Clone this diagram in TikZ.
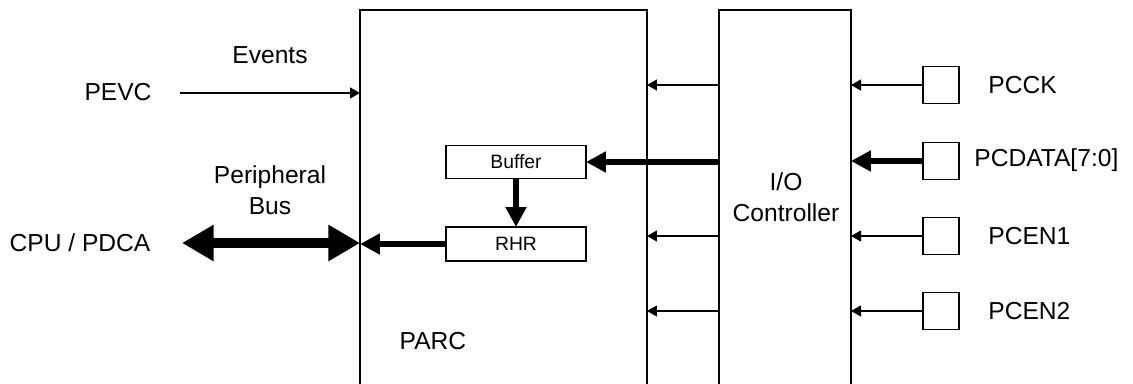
\documentclass[tikz,border=0pt]{standalone}
\usepackage{fontspec}
\setmainfont{Liberation Sans}
\usetikzlibrary{arrows.meta}

\begin{document}
\begin{tikzpicture}[x=0.02cm, y=-0.02cm,
    block/.style={rectangle, draw, line width=0.75pt, inner sep=0pt, outer sep=0pt},
    txt/.style={font=\fontsize{14}{17.5}\selectfont, align=center, inner sep=0pt},
    small/.style={font=\fontsize{11}{13}\selectfont},
    sig/.style={line width=0.85pt, -{Triangle[length=5.7pt, width=6.2pt]}},
    bus/.style={line width=3pt, -{Triangle[length=11.3pt, width=11.3pt]}},
    dbus/.style={line width=5.7pt, {Triangle[length=18pt, width=19.5pt]}-{Triangle[length=18pt, width=19.5pt]}}]
    \clip (0,0) rectangle (1133,383);

    % Draw nodes
    \node[block, minimum width=5.74cm, minimum height=7.8cm] (parc) at (503.5,205) {};
    \node[block, minimum width=2.64cm, minimum height=7.8cm] (io) at (785,205) {};
    \node[block, small, minimum width=2.8cm, minimum height=0.66cm] (buf) at (516,162) {Buffer};
    \node[block, small, minimum width=2.8cm, minimum height=0.68cm] (rhr) at (516,244) {RHR};
    \node[block, minimum width=0.72cm, minimum height=0.74cm] (pcck) at (941,85) {};
    \node[block, minimum width=0.72cm, minimum height=0.74cm] (pcdata) at (941,161) {};
    \node[block, minimum width=0.72cm, minimum height=0.74cm] (pcen1) at (941,236) {};
    \node[block, minimum width=0.72cm, minimum height=0.74cm] (pcen2) at (941,311) {};

    % Labels
    \node[txt] (pevc) at (118,92) {PEVC};
    \node[txt] (events) at (270,55) {Events};
    \node[txt] (pbus) at (270,190) {Peripheral\\Bus};
    \node[txt] (cpu) at (80,243) {CPU / PDCA};
    \node[txt] (parclbl) at (433,341) {PARC};
    \node[txt] (iolbl) at (786,197) {I/O\\Controller};
    \node[txt, anchor=west] (lck) at (988,85) {PCCK};
    \node[txt, anchor=west] (ldata) at (974,160) {PCDATA[7:0]};
    \node[txt, anchor=west] (len1) at (988,236) {PCEN1};
    \node[txt, anchor=west] (len2) at (988,311) {PCEN2};
    \coordinate (evin) at (180,93);
    \coordinate (busin) at (182,243);

    % Draw connections
    \draw[sig] (evin) -- (evin -| parc.west);
    \draw[dbus] (busin) -- (busin -| parc.west);
    \draw[bus] (rhr.west) -- (rhr.west -| parc.west);
    \draw[bus] (buf.south) -- (rhr.north);
    \draw[bus] (buf.east -| io.west) -- (buf.east);
    \draw[sig] (pcck.west) -- (pcck.west -| io.east);
    \draw[bus] (pcdata.west) -- (pcdata.west -| io.east);
    \draw[sig] (pcen1.west) -- (pcen1.west -| io.east);
    \draw[sig] (pcen2.west) -- (pcen2.west -| io.east);
    \draw[sig] (pcck.west -| io.west) -- (pcck.west -| parc.east);
    \draw[sig] (pcen1.west -| io.west) -- (pcen1.west -| parc.east);
    \draw[sig] (pcen2.west -| io.west) -- (pcen2.west -| parc.east);
\end{tikzpicture}
\end{document}
